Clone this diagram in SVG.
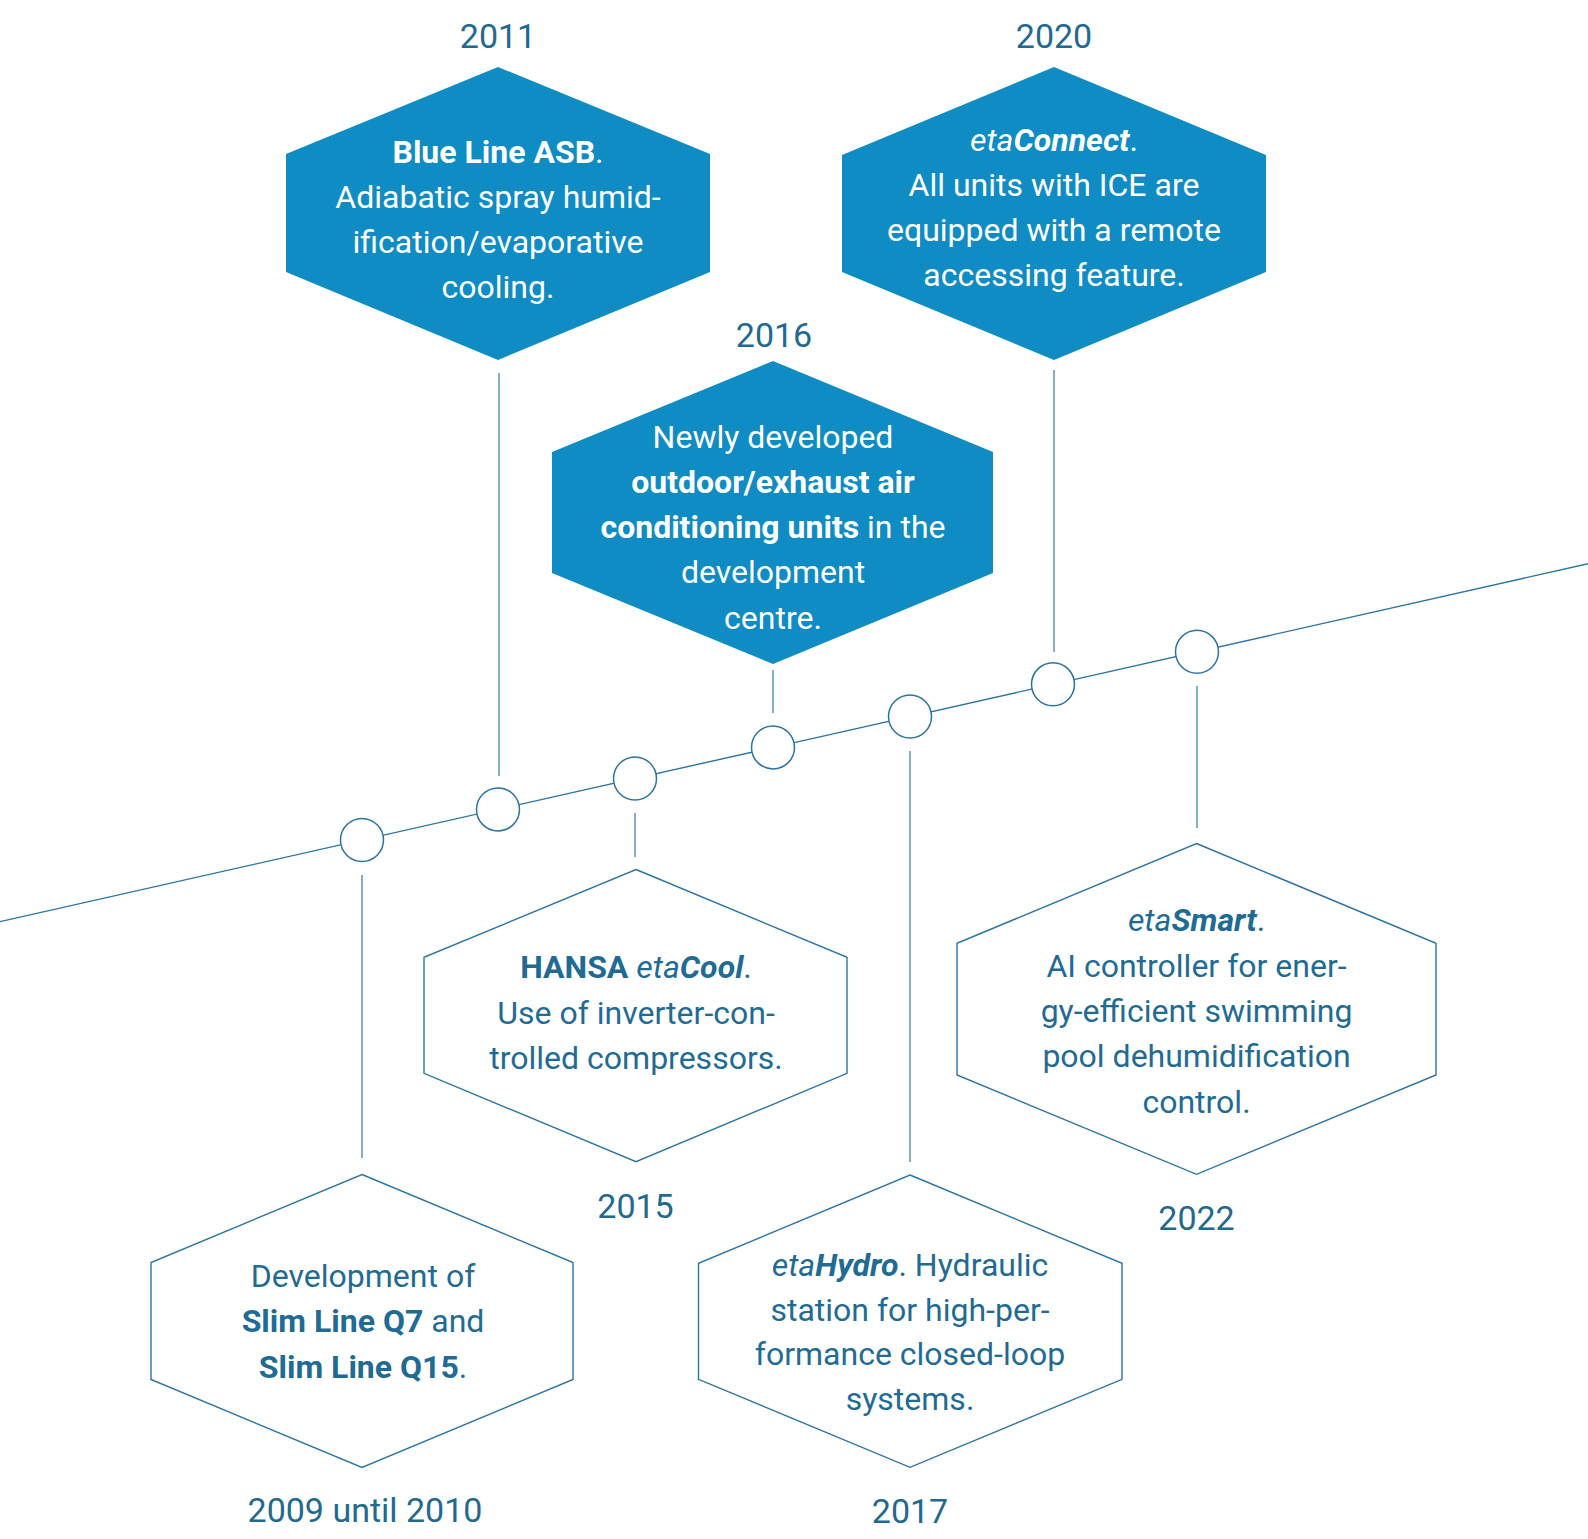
<svg xmlns="http://www.w3.org/2000/svg" width="1588" height="1539" viewBox="0 0 1588 1539">
<style>
text{font-family:Roboto,"Liberation Sans",sans-serif;font-size:32px;text-anchor:middle}
.yr{font-size:34px;fill:#22698f}
.w{fill:#ffffff}
.d{fill:#1f6b94}
.b{font-weight:bold}
.i{font-style:italic}
.hf{fill:#0e8cc3;stroke:none}
.ho{fill:#ffffff;stroke:#2a74a2;stroke-width:1.4}
.ln{stroke:#2a74a2;stroke-width:1.4;fill:none}
.vc{stroke:#4f8db5;stroke-width:1.4;fill:none}
.c{fill:#ffffff;stroke:#2a74a2;stroke-width:1.5}
</style>
<rect width="1588" height="1539" fill="#ffffff"/>
<g id="connectors">
<line class="ln" x1="0" y1="921.6" x2="1588" y2="563.7"/>
<line class="vc" x1="362" y1="875" x2="362" y2="1158"/>
<line class="vc" x1="499" y1="373" x2="499" y2="776"/>
<line class="vc" x1="635" y1="813" x2="635" y2="857"/>
<line class="vc" x1="773" y1="670" x2="773" y2="713"/>
<line class="vc" x1="910" y1="751" x2="910" y2="1162"/>
<line class="vc" x1="1054" y1="370" x2="1054" y2="652"/>
<line class="vc" x1="1197" y1="686" x2="1197" y2="828"/>
</g>
<g id="dots">
<circle class="c" cx="362" cy="840" r="21.5"/>
<circle class="c" cx="498" cy="809.4" r="21.5"/>
<circle class="c" cx="635" cy="778.5" r="21.5"/>
<circle class="c" cx="773" cy="747.4" r="21.5"/>
<circle class="c" cx="910" cy="716.5" r="21.5"/>
<circle class="c" cx="1053" cy="684.3" r="21.5"/>
<circle class="c" cx="1197" cy="651.8" r="21.5"/>
</g>
<g id="n2011">
<text class="yr" x="498" y="48.3">2011</text>
<polygon class="hf" points="498,67 710,154 710,272 498,360 286,272 286,154"/>
<text class="w" x="498" y="162.7"><tspan class="b">Blue Line ASB</tspan>.</text>
<text class="w" x="498" y="207.5">Adiabatic spray humid-</text>
<text class="w" x="498" y="253">ification/evaporative</text>
<text class="w" x="498" y="298">cooling.</text>
</g>
<g id="n2020">
<text class="yr" x="1054" y="48.3">2020</text>
<polygon class="hf" points="1054,67 1266,155 1266,272 1054,360 842,272 842,155"/>
<text class="w" x="1054" y="150.7"><tspan class="i">eta</tspan><tspan class="i b">Connect</tspan>.</text>
<text class="w" x="1054" y="195.5">All units with ICE are</text>
<text class="w" x="1054" y="240.5">equipped with a remote</text>
<text class="w" x="1054" y="286">accessing feature.</text>
</g>
<g id="n2016">
<text class="yr" x="774" y="346.7">2016</text>
<polygon class="hf" points="773,361 993,452 993,573 773,664 552,573 552,452"/>
<text class="w" x="773" y="447.7">Newly developed</text>
<text class="w b" x="773" y="493.3">outdoor/exhaust air</text>
<text class="w" x="773" y="538.3"><tspan class="b">conditioning units</tspan> in the</text>
<text class="w" x="773" y="583.3">development</text>
<text class="w" x="773" y="629.3">centre.</text>
</g>
<g id="n2009">
<polygon class="ho" points="362,1174.5 573,1262.5 573,1379.5 362,1467.5 151,1379.5 151,1262.5"/>
<text class="d" x="363" y="1286.7">Development of</text>
<text class="d" x="363" y="1331.7"><tspan class="b">Slim Line Q7</tspan> and</text>
<text class="d" x="363" y="1377.7"><tspan class="b">Slim Line Q15</tspan>.</text>
<text class="yr" x="365" y="1522.3">2009 until 2010</text>
</g>
<g id="n2015">
<polygon class="ho" points="636,869.5 847,957.3 847,1073.3 636,1161.7 424,1073.3 424,957.3"/>
<text class="d" x="636" y="978.3"><tspan class="b">HANSA </tspan><tspan class="i">eta</tspan><tspan class="i b">Cool</tspan>.</text>
<text class="d" x="636" y="1024">Use of inverter-con-</text>
<text class="d" x="636" y="1069.3">trolled compressors.</text>
<text class="yr" x="635.5" y="1218.3">2015</text>
</g>
<g id="n2017">
<polygon class="ho" points="910,1175 1122,1263.3 1122,1379.3 910,1467.3 698.5,1379.3 698.5,1263.3"/>
<text class="d" x="910" y="1276"><tspan class="i">eta</tspan><tspan class="i b">Hydro</tspan>. Hydraulic</text>
<text class="d" x="910" y="1320.7">station for high-per-</text>
<text class="d" x="910" y="1365">formance closed-loop</text>
<text class="d" x="910" y="1410">systems.</text>
<text class="yr" x="910" y="1522.7">2017</text>
</g>
<g id="n2022">
<polygon class="ho" points="1196.5,843.5 1436,943.3 1436,1075 1196.5,1174.3 957,1075 957,943.3"/>
<text class="d" x="1196.5" y="930.7"><tspan class="i">eta</tspan><tspan class="i b">Smart</tspan>.</text>
<text class="d" x="1196.5" y="976.7">AI controller for ener-</text>
<text class="d" x="1196.5" y="1022.3">gy-efficient swimming</text>
<text class="d" x="1196.5" y="1067.3">pool dehumidification</text>
<text class="d" x="1196.5" y="1113.3">control.</text>
<text class="yr" x="1196.5" y="1230">2022</text>
</g>
</svg>
